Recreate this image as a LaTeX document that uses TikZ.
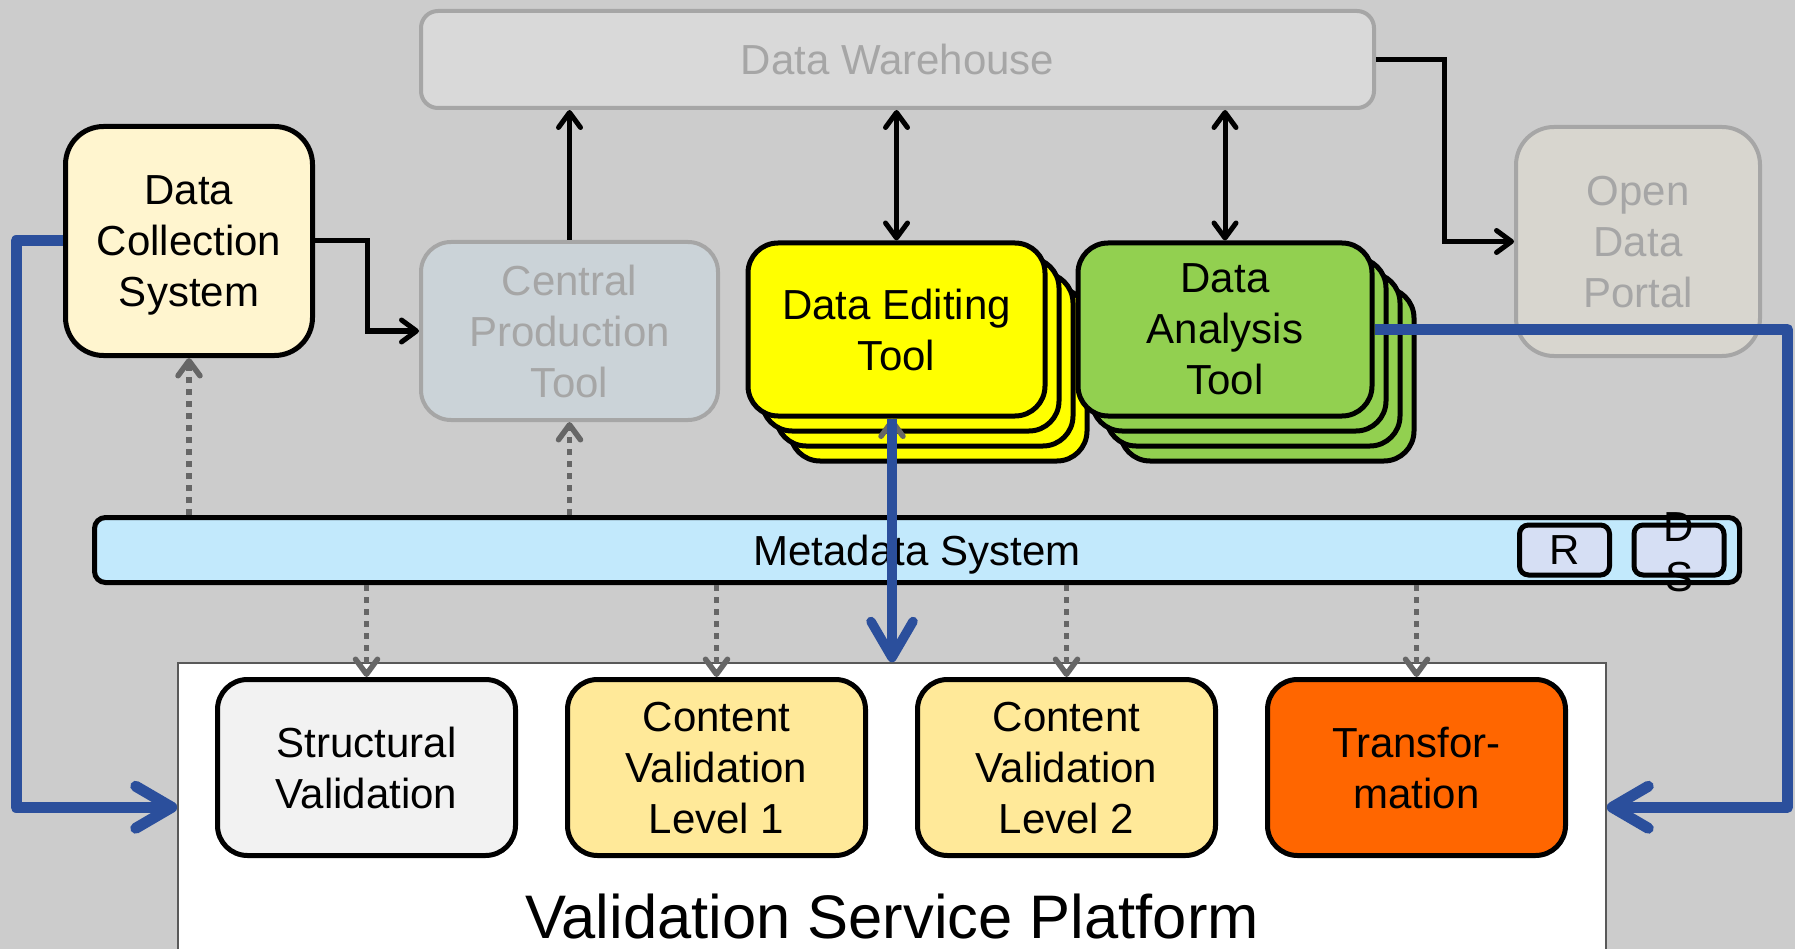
\documentclass[tikz,border=0pt]{standalone}
\usepackage{fontspec}
\setmainfont{Liberation Sans}
\usetikzlibrary{arrows.meta,calc}
\definecolor{bgc}{HTML}{CCCCCC}
\definecolor{ghost}{HTML}{A6A6A6}
\definecolor{dwfill}{HTML}{D9D9D9}
\definecolor{dcsfill}{HTML}{FFF5CF}
\definecolor{cptfill}{HTML}{CBD3D8}
\definecolor{detfill}{HTML}{FFFF00}
\definecolor{datfill}{HTML}{92D050}
\definecolor{odpfill}{HTML}{D8D6CF}
\definecolor{metafill}{HTML}{C2E9FC}
\definecolor{rfill}{HTML}{D6DFF4}
\definecolor{structfill}{HTML}{F2F2F2}
\definecolor{cvlfill}{HTML}{FFE999}
\definecolor{trfill}{HTML}{FF6600}
\definecolor{bluec}{HTML}{2B4F9C}
\definecolor{dotc}{HTML}{666666}
\definecolor{vspborder}{HTML}{595959}
\newcommand{\bigf}{\fontsize{42}{51}\selectfont}
\begin{document}
\begin{tikzpicture}[x=1pt,y=-1pt,
  box/.style={draw=black, line width=5pt, align=center, font=\bigf, inner sep=0pt, text depth=-4pt},
  ghostbox/.style={draw=ghost, line width=4pt, text=ghost, align=center, font=\bigf, inner sep=0pt, text depth=-4pt},
  blkarrow/.style={draw=black, line width=5pt, -{Straight Barb[length=15pt,width=22pt,round]}},
  blkdouble/.style={draw=black, line width=5pt, {Straight Barb[length=15pt,width=22pt,round]}-{Straight Barb[length=15pt,width=22pt,round]}},
  bluearrow/.style={draw=bluec, line width=11pt, line join=round, -{Straight Barb[length=36pt,width=42pt,round]}},
  dotarrow/.style={draw=dotc, line width=5.5pt, dash pattern=on 6pt off 6pt, -{Straight Barb[length=15pt,width=22pt,round]}}
]
\useasboundingbox (0,0) rectangle (1795,949);
\fill[bgc] (0,0) rectangle (1795,949);

% Validation service platform
\node[draw=vspborder, line width=1.5pt, fill=white, minimum width=1428pt, minimum height=330pt, inner sep=0pt] (vsp) at (892,828) {};
\node[font=\fontsize{61.5}{70}\selectfont, anchor=base] (vsptext) at (892,938) {Validation Service Platform};

% Top
\node[ghostbox, fill=dwfill, rounded corners=17pt, minimum width=953pt, minimum height=97pt] (dw) at (897.5,59.5) {Data Warehouse};
\node[box, fill=dcsfill, rounded corners=38pt, minimum width=247pt, minimum height=229pt] (dcs) at (189,241) {Data\\Collection\\System};
\node[ghostbox, fill=cptfill, rounded corners=30pt, minimum width=297pt, minimum height=178pt] (cpt) at (569.5,331) {Central\\Production\\Tool};
\node[ghostbox, fill=odpfill, rounded corners=38pt, minimum width=244pt, minimum height=229pt] (odp) at (1638,241.5) {Open\\Data\\Portal};

% Data Editing Tool stack
\foreach \i/\n in {3/det3,2/det2,1/det1}{
  \node[box, fill=detfill, rounded corners=30pt, minimum width=297pt, minimum height=173pt] (\n) at (896.5+14*\i,329.5+15*\i) {};
}
\node[box, fill=detfill, rounded corners=30pt, minimum width=297pt, minimum height=173pt] (det) at (896.5,329.5) {Data Editing\\Tool};

% Data Analysis Tool stack
\foreach \i/\n in {3/dat3,2/dat2,1/dat1}{
  \node[box, fill=datfill, rounded corners=30pt, minimum width=294pt, minimum height=173pt] (\n) at (1225+14*\i,329.5+15*\i) {};
}
\node[box, fill=datfill, rounded corners=30pt, minimum width=294pt, minimum height=173pt] (dat) at (1225,329.5) {Data\\Analysis\\Tool};

% Metadata system
\node[box, fill=metafill, rounded corners=11pt, minimum width=1645pt, minimum height=65pt] (meta) at (917,550) {Metadata System};
\node[box, fill=rfill, rounded corners=9pt, minimum width=90pt, minimum height=50pt, text depth=0pt] (rbox) at (1564.5,550) {R};
\node[box, fill=rfill, rounded corners=9pt, minimum width=90pt, minimum height=50pt] (dsbox) at (1679,550) {};
\node[font=\fontsize{42}{50}\selectfont, align=center, inner sep=0pt] (dstext) at (1679,552) {D\\S};

% Validation boxes
\node[box, fill=structfill, rounded corners=30pt, minimum width=298pt, minimum height=176pt] (struct) at (366.5,767.5) {Structural\\Validation};
\node[box, fill=cvlfill, rounded corners=30pt, minimum width=298pt, minimum height=176pt] (cvl1) at (716.5,767.5) {Content\\Validation\\Level 1};
\node[box, fill=cvlfill, rounded corners=30pt, minimum width=298pt, minimum height=176pt] (cvl2) at (1066.5,767.5) {Content\\Validation\\Level 2};
\node[box, fill=trfill, rounded corners=30pt, minimum width=298pt, minimum height=176pt] (tr) at (1416.5,767.5) {Transfor-\\mation};

% Black arrows
\draw[blkarrow] (dcs.east) -- ++(52,0) |- (cpt.west);
\draw[blkarrow] (cpt.north) -- (cpt.north |- dw.south);
\draw[blkdouble] (det.north |- dw.south) -- (det.north);
\draw[blkdouble] (dat.north |- dw.south) -- (dat.north);
\draw[blkarrow] (dw.east) -- ++(68,0) |- (odp.west);

% Dotted arrows
\draw[dotarrow] (meta.north -| dcs.south) -- (dcs.south);
\draw[dotarrow] (meta.north -| cpt.south) -- (cpt.south);
\draw[dotarrow] (meta.north -| vsp.north) -- (vsp.north |- det.south);
\draw[dotarrow] (meta.south -| struct.north) -- (struct.north);
\draw[dotarrow] (meta.south -| cvl1.north) -- (cvl1.north);
\draw[dotarrow] (meta.south -| cvl2.north) -- (cvl2.north);
\draw[dotarrow] (meta.south -| tr.north) -- (tr.north);

% Blue arrows
\draw[bluearrow] (dcs.west) -- ++(-47,0) |- ($(vsp.north west)+(0,145)$);
\draw[bluearrow] (dat.east) -- ++(413,0) |- ($(vsp.north east)+(0,145)$);
\draw[bluearrow, line width=9.5pt] (vsp.north |- det.south) -- (vsp.north);
\end{tikzpicture}
\end{document}
